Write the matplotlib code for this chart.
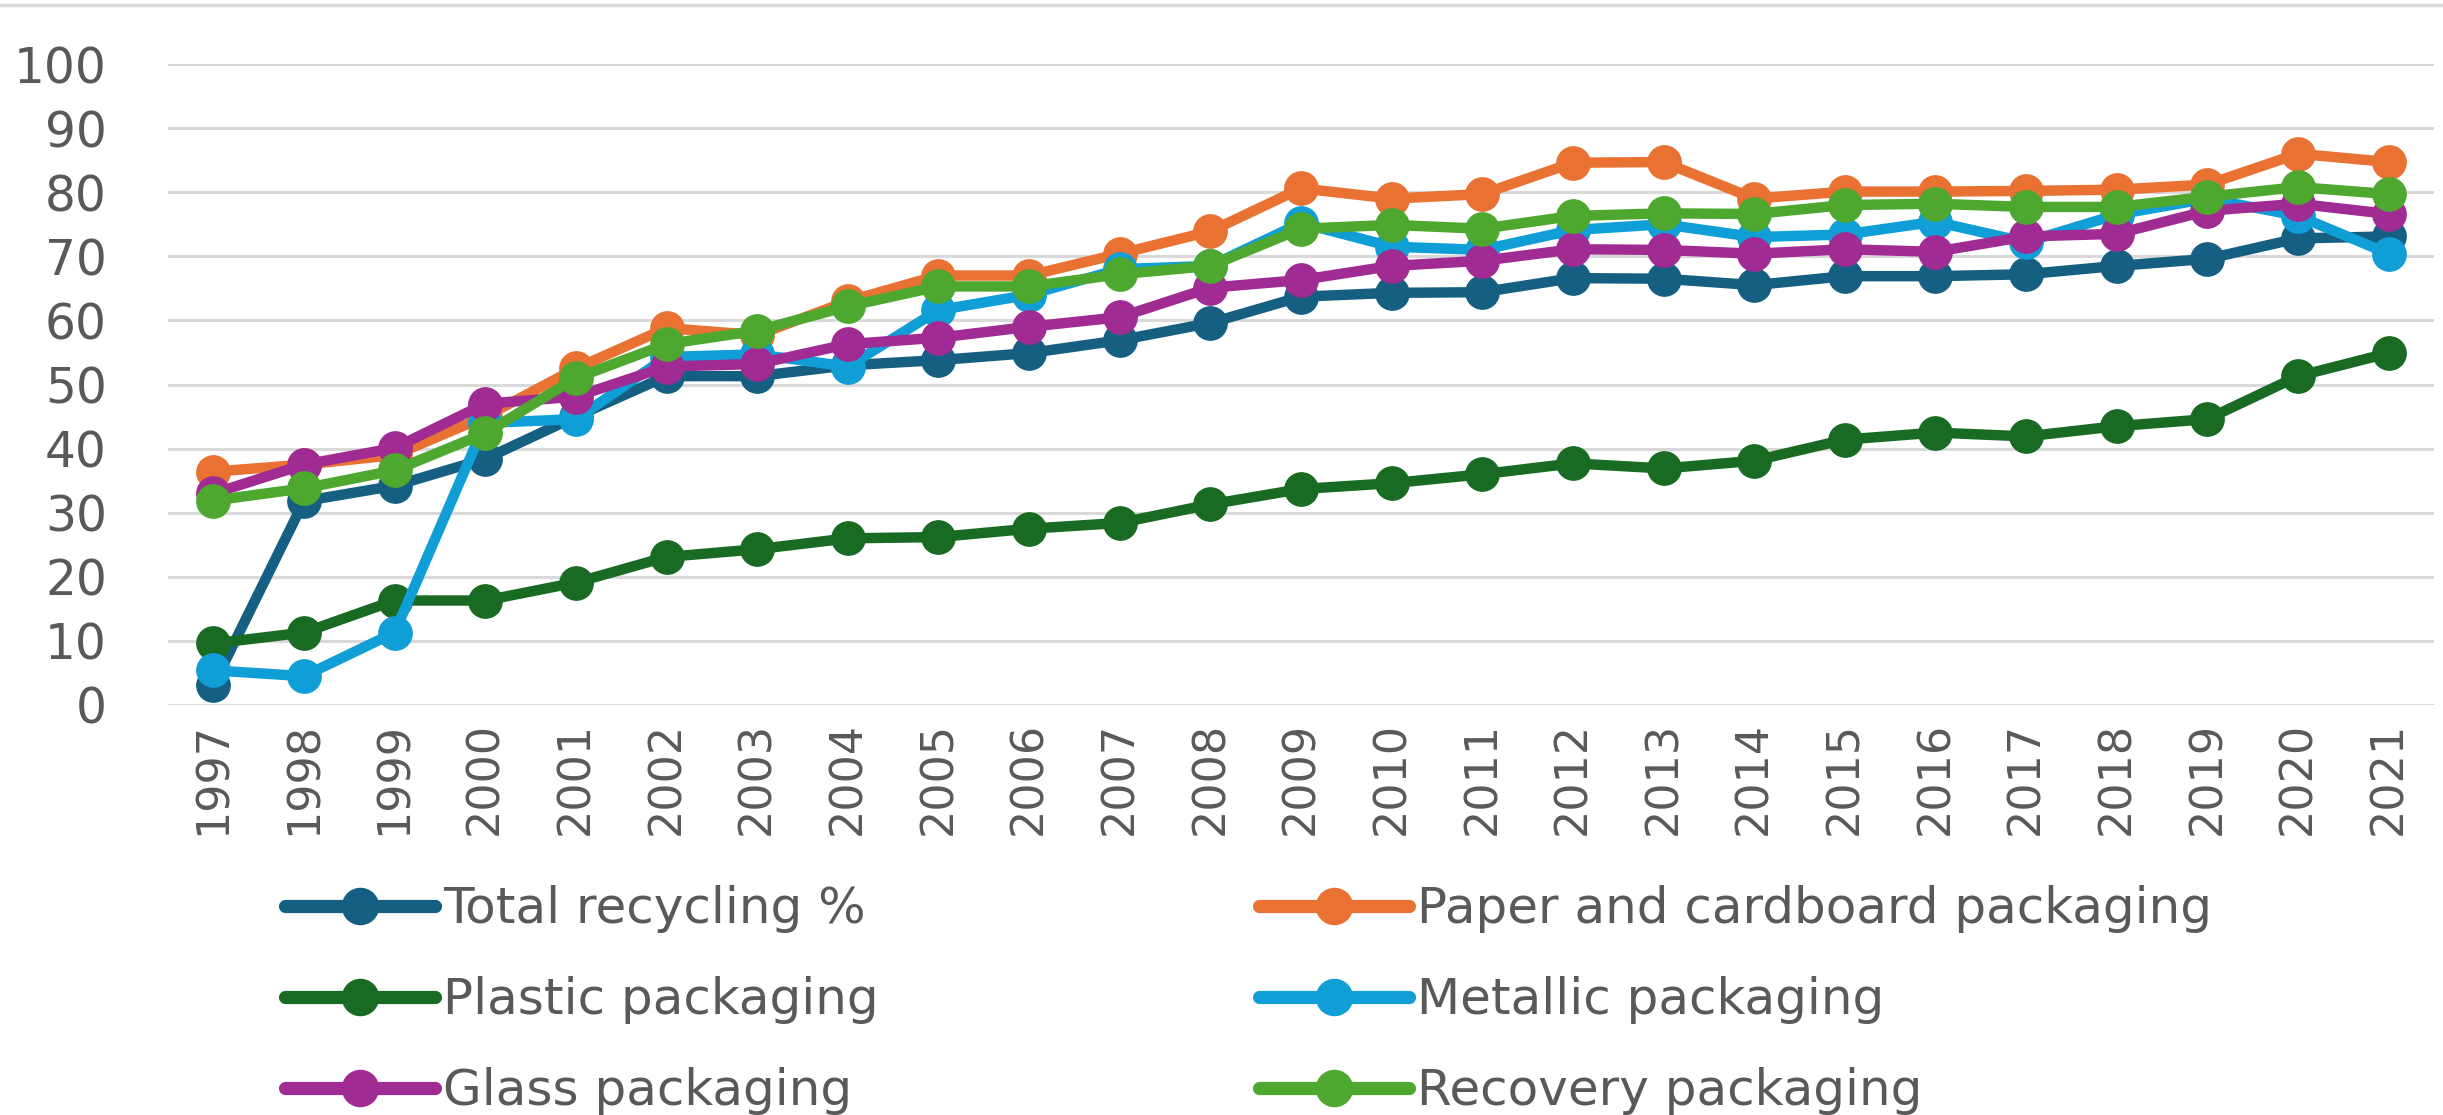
import matplotlib.pyplot as plt
from matplotlib.lines import Line2D

years = list(range(1997, 2022))

total = [3.1, 31.8, 34.2, 38.4, 45.0, 51.3, 51.3, 53.0, 53.8, 54.9, 56.9, 59.6, 63.7,
         64.3, 64.4, 66.6, 66.5, 65.5, 66.9, 66.9, 67.2, 68.5, 69.6, 72.8, 73.1]
paper = [36.4, 37.5, 39.0, 45.0, 52.5, 58.8, 57.7, 63.0, 67.0, 67.0, 70.4, 73.9, 80.6,
         79.0, 79.7, 84.6, 84.7, 79.0, 80.1, 80.1, 80.2, 80.4, 81.2, 86.0, 84.7]
plastic = [9.6, 11.3, 16.3, 16.3, 19.1, 23.1, 24.3, 26.0, 26.2, 27.5, 28.4, 31.3, 33.7,
           34.6, 36.0, 37.7, 36.9, 38.1, 41.4, 42.5, 41.9, 43.5, 44.6, 51.3, 54.9]
metallic = [5.4, 4.5, 11.3, 44.0, 44.6, 54.3, 54.7, 52.8, 61.6, 64.0, 68.0, 68.5, 75.2,
            71.5, 71.0, 74.1, 75.0, 73.0, 73.4, 75.4, 72.2, 76.5, 79.0, 76.3, 70.4]
glass = [33.0, 37.5, 40.1, 47.0, 48.1, 52.8, 53.2, 56.3, 57.3, 59.0, 60.5, 65.1, 66.3,
         68.5, 69.3, 71.1, 71.0, 70.4, 71.1, 70.7, 73.1, 73.5, 77.1, 78.2, 76.6]
recovery = [31.9, 33.8, 36.6, 42.4, 51.0, 56.3, 58.4, 62.2, 65.3, 65.3, 67.2, 68.5, 74.3,
            74.9, 74.3, 76.3, 76.7, 76.6, 78.0, 78.2, 77.7, 77.7, 79.3, 80.8, 79.7]

series = [
    ("Total recycling %", total, "#156082"),
    ("Paper and cardboard packaging", paper, "#E97132"),
    ("Plastic packaging", plastic, "#196B24"),
    ("Metallic packaging", metallic, "#0F9ED5"),
    ("Glass packaging", glass, "#A02B93"),
    ("Recovery packaging", recovery, "#4EA72E"),
]

W, H = 2443, 1115
fig = plt.figure(figsize=(W / 100, H / 100), dpi=100)
ax = fig.add_axes([168 / W, 1 - 705 / H, (2434 - 168) / W, (705 - 64) / H])

x = list(range(len(years)))
handles = {}
for name, vals, col in series:
    h, = ax.plot(x, vals, color=col, lw=7.5, marker="o", ms=24,
                 solid_capstyle="round", solid_joinstyle="round", label=name)
    handles[name] = h

ax.set_xlim(-0.5, len(years) - 0.5)
ax.set_ylim(0, 100)
ax.set_yticks(range(0, 101, 10))
ax.set_xticks(x)
ax.set_xticklabels([str(y) for y in years], rotation=90, va="top", ha="center")
ax.tick_params(axis="y", length=0, pad=44, labelsize=35, labelcolor="#595959")
ax.tick_params(axis="x", length=0, pad=12, labelsize=32, labelcolor="#595959")
ax.grid(axis="y", color="#D9D9D9", lw=2.2)
ax.set_axisbelow(True)
for s in ax.spines.values():
    s.set_visible(False)

# chart border line at the top
fig.add_artist(Line2D([0, 1], [1 - 5 / H, 1 - 5 / H], transform=fig.transFigure,
                      color="#D9D9D9", lw=2.5))

order = ["Total recycling %", "Plastic packaging", "Glass packaging",
         "Paper and cardboard packaging", "Metallic packaging", "Recovery packaging"]
leg = fig.legend([handles[n] for n in order], order, ncol=2, frameon=False,
                 loc="upper left", bbox_to_anchor=(285 / W, 1 - 885 / H),
                 borderpad=0, borderaxespad=0, fontsize=36, handlelength=3.0,
                 handletextpad=0.16, labelspacing=0.86, columnspacing=7.6)
for t in leg.get_texts():
    t.set_color("#595959")
for lh in leg.legend_handles:
    lh.set_linewidth(9.5)
    lh.set_markersize(26)

fig.savefig("out.png", dpi=100)
